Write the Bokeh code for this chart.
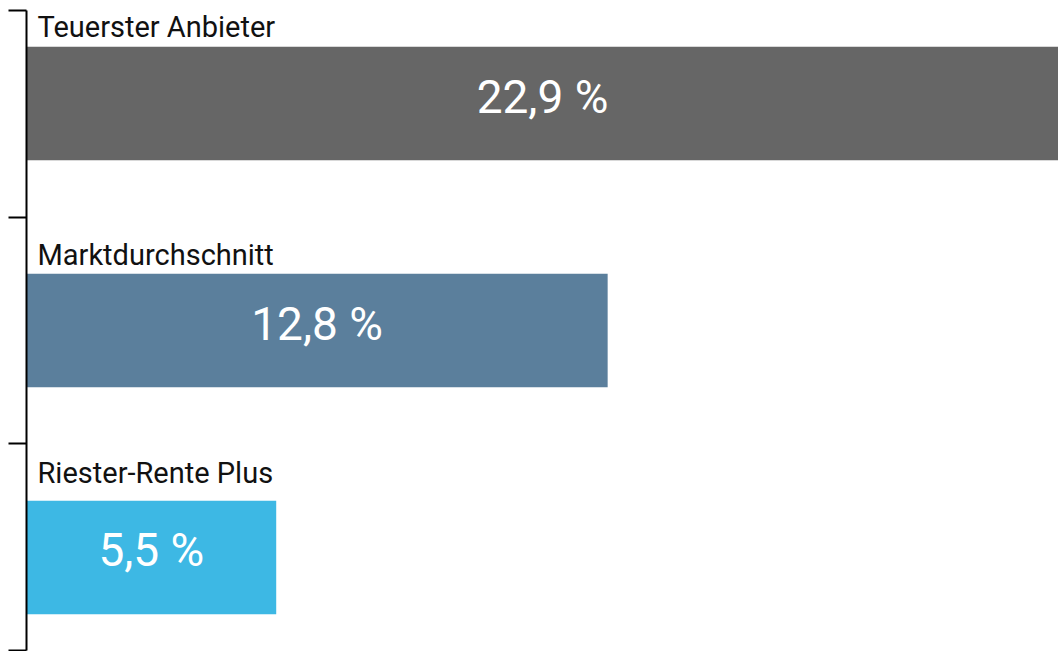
from bokeh.plotting import figure
from bokeh.models import Range1d, FixedTicker, ColumnDataSource
from bokeh.core.properties import value
from bokeh.embed import file_html
from bokeh.resources import INLINE

categories = ["Teuerster Anbieter", "Marktdurchschnitt", "Riester-Rente Plus"]
values = [22.9, 12.8, 5.5]
value_labels = ["22,9 %", "12,8 %", "5,5 %"]
colors = ["#666666", "#5B7F9C", "#3DB8E4"]

n = len(categories)
pos = [n - 1 - i for i in range(n)]
label_gap = [-20, -19, -28]
x_end = 22.73

src = ColumnDataSource(dict(
    y=pos, v=values, vl=value_labels, c=colors,
    mid=[min(v, x_end) / 2 for v in values],
))

p = figure(width=1058, height=651, output_backend="svg", toolbar_location=None,
           x_axis_location=None, min_border_left=26, min_border_right=0,
           min_border_top=10, min_border_bottom=1,
           x_range=Range1d(0, x_end), y_range=Range1d(-0.41, n - 1 + 0.41))
p.outline_line_color = None
p.grid.visible = False
p.background_fill_color = "white"
p.border_fill_color = "white"

p.hbar(y="y", left=0, right="v", height=0.5, fill_color="c", line_color=None, source=src)

for i, cat in enumerate(categories):
    p.text(x=[0], y=[pos[i] + 0.25], text=[cat], x_offset=11, y_offset=label_gap[i],
           text_font=value("Roboto"), text_font_size="29px",
           text_color="#111111", text_baseline="alphabetic", text_align="left")

p.text(x="mid", y="y", text="vl", source=src, y_offset=-7,
       text_font=value("Roboto"), text_font_size="46px",
       text_color="white", text_baseline="middle", text_align="center")

ticks = [-0.41, 0.5, 1.5, n - 1 + 0.41]
ya = p.yaxis[0]
ya.ticker = FixedTicker(ticks=ticks)
ya.major_label_overrides = {t: "" for t in ticks}
ya.major_label_text_font_size = "1px"
ya.major_label_standoff = 0
ya.major_tick_out = 18
ya.major_tick_in = 0
ya.minor_tick_line_color = None
ya.axis_line_width = 2
ya.major_tick_line_width = 2
ya.axis_line_color = "black"
ya.major_tick_line_color = "black"

open("out.html", "w").write(file_html(p, INLINE))
